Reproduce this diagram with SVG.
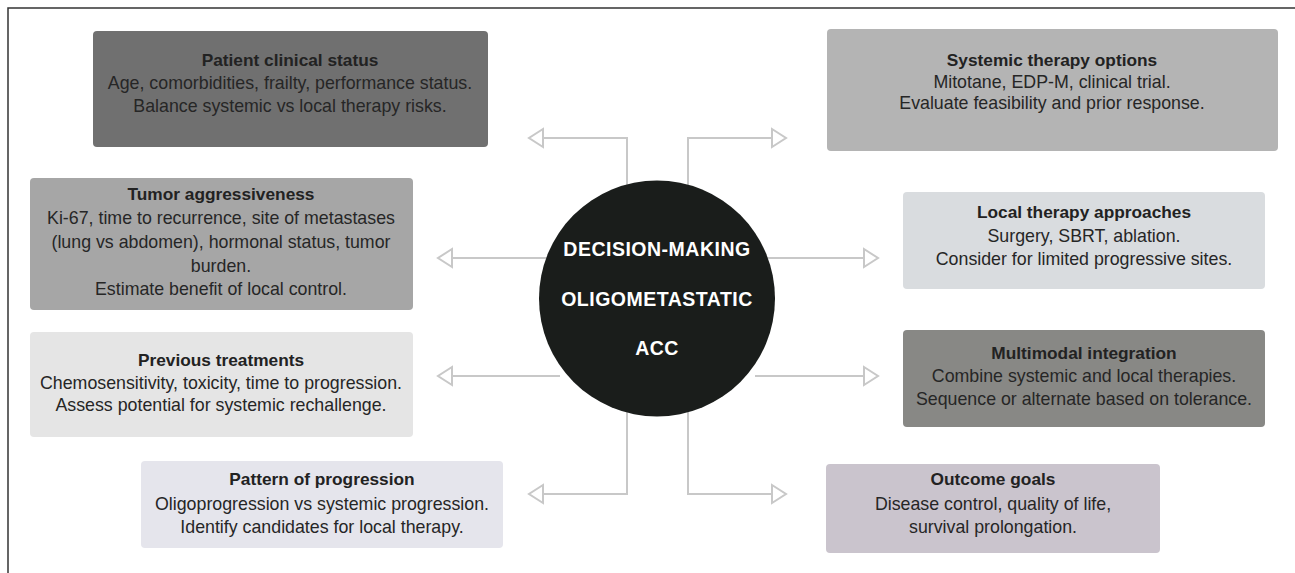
<svg xmlns="http://www.w3.org/2000/svg" width="1295" height="573" viewBox="0 0 1295 573">
<defs>
<style>
.box{stroke:none}
.t{font-family:"Liberation Sans",Arial,sans-serif;font-size:17.3px;font-weight:bold;fill:#222;text-anchor:middle}
.b{font-family:"Liberation Sans",Arial,sans-serif;font-size:17.8px;fill:#262626;text-anchor:middle}
.c{font-family:"Liberation Sans",Arial,sans-serif;font-size:19.5px;font-weight:bold;fill:#fff;text-anchor:middle;letter-spacing:0.5px}
.conn{fill:none;stroke:#c8c8c8;stroke-width:2}
</style>
<marker id="arr" viewBox="0 0 18 22" refX="16" refY="11" markerWidth="18" markerHeight="22" markerUnits="userSpaceOnUse" orient="auto">
<path d="M2,2 L16,11 L2,20 Z" fill="#fff" stroke="#c8c8c8" stroke-width="2" stroke-linejoin="miter"/>
</marker>
</defs>
<rect width="1295" height="573" fill="#fff"/>
<path d="M8,573 L8,8 L1295,8" fill="none" stroke="#333" stroke-width="1.5"/>

<g id="connectors">
<path class="conn" d="M627,185 L627,138 L529,138" marker-end="url(#arr)"/>
<path class="conn" d="M688,185 L688,138 L786,138" marker-end="url(#arr)"/>
<path class="conn" d="M550,258 L438,258" marker-end="url(#arr)"/>
<path class="conn" d="M765,258 L878,258" marker-end="url(#arr)"/>
<path class="conn" d="M560,376 L438,376" marker-end="url(#arr)"/>
<path class="conn" d="M755,376 L878,376" marker-end="url(#arr)"/>
<path class="conn" d="M627,412 L627,494 L529,494" marker-end="url(#arr)"/>
<path class="conn" d="M688,412 L688,494 L786,494" marker-end="url(#arr)"/>
</g>

<g id="center">
<circle cx="657" cy="298.5" r="118" fill="#1a1d1b"/>
<text class="c" x="657" y="256">DECISION-MAKING</text>
<text class="c" x="657" y="306">OLIGOMETASTATIC</text>
<text class="c" x="657" y="355">ACC</text>
</g>

<g id="patient-clinical-status">
<rect class="box" x="93" y="31" width="395" height="116" rx="4" fill="#707070"/>
<text class="t" x="290" y="66">Patient clinical status</text>
<text class="b" x="290" y="89">Age, comorbidities, frailty, performance status.</text>
<text class="b" x="290" y="112">Balance systemic vs local therapy risks.</text>
</g>

<g id="systemic-therapy-options">
<rect class="box" x="827" y="29" width="451" height="122" rx="4" fill="#b4b4b4"/>
<text class="t" x="1052" y="66">Systemic therapy options</text>
<text class="b" x="1052" y="88">Mitotane, EDP-M, clinical trial.</text>
<text class="b" x="1052" y="109">Evaluate feasibility and prior response.</text>
</g>

<g id="tumor-aggressiveness">
<rect class="box" x="30" y="178" width="383" height="132" rx="4" fill="#a6a6a6"/>
<text class="t" x="221" y="200">Tumor aggressiveness</text>
<text class="b" x="221" y="224">Ki-67, time to recurrence, site of metastases</text>
<text class="b" x="221" y="248">(lung vs abdomen), hormonal status, tumor</text>
<text class="b" x="221" y="272">burden.</text>
<text class="b" x="221" y="295">Estimate benefit of local control.</text>
</g>

<g id="local-therapy-approaches">
<rect class="box" x="903" y="192" width="362" height="97" rx="4" fill="#d9dcdf"/>
<text class="t" x="1084" y="218">Local therapy approaches</text>
<text class="b" x="1084" y="242">Surgery, SBRT, ablation.</text>
<text class="b" x="1084" y="265">Consider for limited progressive sites.</text>
</g>

<g id="previous-treatments">
<rect class="box" x="30" y="332" width="383" height="105" rx="4" fill="#e5e5e5"/>
<text class="t" x="221" y="366">Previous treatments</text>
<text class="b" x="221" y="389">Chemosensitivity, toxicity, time to progression.</text>
<text class="b" x="221" y="411">Assess potential for systemic rechallenge.</text>
</g>

<g id="multimodal-integration">
<rect class="box" x="903" y="330" width="362" height="97" rx="4" fill="#888885"/>
<text class="t" x="1084" y="359">Multimodal integration</text>
<text class="b" x="1084" y="382">Combine systemic and local therapies.</text>
<text class="b" x="1084" y="405">Sequence or alternate based on tolerance.</text>
</g>

<g id="pattern-of-progression">
<rect class="box" x="141" y="461" width="362" height="87" rx="4" fill="#e5e5ec"/>
<text class="t" x="322" y="485">Pattern of progression</text>
<text class="b" x="322" y="510">Oligoprogression vs systemic progression.</text>
<text class="b" x="322" y="533">Identify candidates for local therapy.</text>
</g>

<g id="outcome-goals">
<rect class="box" x="826" y="464" width="334" height="89" rx="4" fill="#cac4cd"/>
<text class="t" x="993" y="485">Outcome goals</text>
<text class="b" x="993" y="510">Disease control, quality of life,</text>
<text class="b" x="993" y="533">survival prolongation.</text>
</g>
</svg>
